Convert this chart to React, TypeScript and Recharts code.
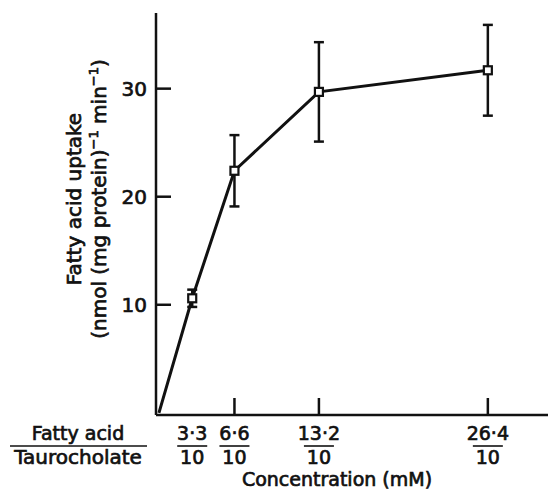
import React from 'react';
import { LineChart, Line, XAxis, YAxis, ErrorBar } from 'recharts';

// fatty acid concentration (mM) and uptake (nmol (mg protein)^-1 min^-1)
const concentration = [0.7, 3.3, 6.6, 13.2, 26.4];
const uptake = [0, 10.6, 22.4, 29.7, 31.7];
const uptakeErr = [null, 0.8, 3.3, 4.6, 4.2];

const xTicks = [3.3, 6.6, 13.2, 26.4];
const xTickNumerators = ['3·3', '6·6', '13·2', '26·4'];
const xTickDenominator = '10';
const xTickLines = [false, true, true, true];
const yTicks = [10, 20, 30];

const data = concentration.map((c, i) => ({ c, uptake: uptake[i], err: uptakeErr[i] }));

const INK = '#111';
const FONT = '"DejaVu Sans", sans-serif';
// heavier, print-like lettering
const textStyle = { fontFamily: FONT, fill: INK, stroke: INK, strokeWidth: 0.7 };

const XTick = (props: any) => {
  const { x, y, payload } = props;
  const i = xTicks.indexOf(payload.value);
  return (
    <g>
      {xTickLines[i] && <line x1={x} x2={x} y1={y} y2={y - 17} stroke={INK} strokeWidth={2.5} />}
      <text x={x} y={y + 25} textAnchor="middle" fontSize={19} {...textStyle}>
        {xTickNumerators[i]}
      </text>
      <line x1={x - 15} x2={x + 15} y1={y + 31} y2={y + 31} stroke={INK} strokeWidth={1.6} />
      <text x={x} y={y + 49} textAnchor="middle" fontSize={19} {...textStyle}>
        {xTickDenominator}
      </text>
    </g>
  );
};

const YTick = (props: any) => {
  const { x, y, payload } = props;
  return (
    <g>
      <line x1={x} x2={x + 15} y1={y} y2={y} stroke={INK} strokeWidth={2.5} />
      <text x={x - 9} y={y + 7} textAnchor="end" fontSize={20} {...textStyle}>
        {payload.value}
      </text>
    </g>
  );
};

const XLabel = (props: any) => {
  const { x, y } = props.viewBox;
  return (
    <g fontSize={19}>
      <text x={x - 78} y={y + 25} textAnchor="middle" {...textStyle}>Fatty acid</text>
      <line x1={x - 146} x2={x - 9} y1={y + 31} y2={y + 31} stroke={INK} strokeWidth={1.6} />
      <text x={x - 78} y={y + 49} textAnchor="middle" fontSize={20} {...textStyle}>Taurocholate</text>
      <text x={x + 181} y={y + 71} textAnchor="middle" {...textStyle}>Concentration (mM)</text>
    </g>
  );
};

const YLabel = (props: any) => {
  const { y } = props.viewBox;
  const cy = y + 186;
  return (
    <g fontSize={20}>
      <text x={81} y={cy} textAnchor="middle" transform={`rotate(-90 81 ${cy})`} {...textStyle}>
        Fatty acid uptake
      </text>
      <text x={106} y={cy} textAnchor="middle" transform={`rotate(-90 106 ${cy})`} {...textStyle}>
        (nmol (mg protein)
        <tspan fontSize={13} dy={-8}>−1</tspan>
        <tspan dy={8}> min</tspan>
        <tspan fontSize={13} dy={-8}>−1</tspan>
        <tspan dy={8}>)</tspan>
      </text>
    </g>
  );
};

const SquareDot = (props: any) => {
  const { cx, cy, payload, index } = props;
  if (payload.err == null) return <g key={index} />;
  return (
    <rect key={index} x={cx - 4} y={cy - 4} width={8} height={8} fill="#fff" stroke={INK} strokeWidth={2.2} />
  );
};

export default function App() {
  return (
    <div style={{ position: 'absolute', left: 0, top: 0, background: '#fff' }}>
      <LineChart width={548} height={495} data={data} margin={{ top: 13, right: 0, bottom: 0, left: 0 }}>
        <XAxis
          dataKey="c"
          type="number"
          domain={[0.47, 31.1]}
          allowDataOverflow
          ticks={xTicks}
          interval={0}
          tickSize={0}
          tickMargin={0}
          tickLine={false}
          tick={<XTick />}
          height={80}
          axisLine={{ stroke: INK, strokeWidth: 2.5 }}
          label={<XLabel />}
        />
        <YAxis
          type="number"
          domain={[-0.2, 37]}
          allowDataOverflow
          ticks={yTicks}
          interval={0}
          tickSize={0}
          tickMargin={0}
          tickLine={false}
          tick={<YTick />}
          width={156}
          axisLine={{ stroke: INK, strokeWidth: 2.5 }}
          label={<YLabel />}
        />
        <Line
          type="linear"
          dataKey="uptake"
          stroke={INK}
          strokeWidth={3}
          dot={<SquareDot />}
          activeDot={false}
          isAnimationActive={false}
        >
          <ErrorBar dataKey="err" width={5} stroke={INK} strokeWidth={2.5} direction="y" />
        </Line>
      </LineChart>
    </div>
  );
}
